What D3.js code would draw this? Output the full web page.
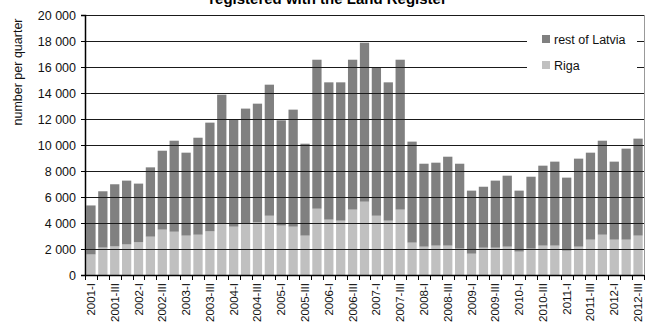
<!DOCTYPE html>
<html>
<head>
<meta charset="utf-8">
<script src="https://cdn.jsdelivr.net/npm/d3@7"></script>
<style>
  html, body { margin: 0; padding: 0; background: #fff; }
  svg { display: block; font-family: "Liberation Sans", Arial, sans-serif; }
</style>
</head>
<body>
<svg id="chart" width="650" height="327"></svg>
<script>
// Quarterly registrations, 2001-I .. 2012-III
const quarters = [
  "2001-I","2001-II","2001-III","2001-IV",
  "2002-I","2002-II","2002-III","2002-IV",
  "2003-I","2003-II","2003-III","2003-IV",
  "2004-I","2004-II","2004-III","2004-IV",
  "2005-I","2005-II","2005-III","2005-IV",
  "2006-I","2006-II","2006-III","2006-IV",
  "2007-I","2007-II","2007-III","2007-IV",
  "2008-I","2008-II","2008-III","2008-IV",
  "2009-I","2009-II","2009-III","2009-IV",
  "2010-I","2010-II","2010-III","2010-IV",
  "2011-I","2011-II","2011-III","2011-IV",
  "2012-I","2012-II","2012-III"
];
const riga = [
  1580, 2110, 2200, 2350,
  2520, 2950, 3490, 3330,
  3030, 3100, 3360, 3970,
  3720, 3970, 4050, 4560,
  3800, 3720, 3030, 5100,
  4260, 4180, 5030, 5640,
  4560, 4180, 5030, 2490,
  2180, 2260, 2260, 2030,
  1640, 2100, 2100, 2180,
  1800, 2030, 2260, 2260,
  1870, 2180, 2720, 3100,
  2720, 2720, 3030
];
const restOfLatvia = [
  3770, 4330, 4780, 4910,
  4510, 5330, 6070, 7000,
  6380, 7460, 8360, 9900,
  8280, 8830, 9130, 10080,
  8100, 9000, 7070, 11460,
  10560, 10640, 11530, 12230,
  11410, 10640, 11530, 7770,
  6380, 6380, 6840, 6530,
  4850, 4690, 5160, 5460,
  4690, 5530, 6150, 6460,
  5620, 6770, 6690, 7230,
  6000, 7000, 7460
];
const yTicks = [0, 2000, 4000, 6000, 8000, 10000, 12000, 14000, 16000, 18000, 20000];
const yTickLabels = ["0", "2 000", "4 000", "6 000", "8 000", "10 000", "12 000", "14 000", "16 000", "18 000", "20 000"];
const seriesNames = ["rest of Latvia", "Riga"];
const seriesColors = ["#808080", "#c0c0c0"];
const titleText = "registered with the Land Register";
const yTitle = "number per quarter";

const svg = d3.select("#chart");
const plotLeft = 85, plotRight = 644, plotTop = 15, plotBottom = 275;

const x = d3.scaleBand().domain(quarters).range([plotLeft, plotRight])
  .paddingInner(0.22).paddingOuter(0.11);
const y = d3.scaleLinear().domain([0, 20000]).range([plotBottom, plotTop]);

// stacked data: Riga at the bottom, rest of Latvia on top
const rows = quarters.map((q, i) => ({ q, riga: riga[i], rest: restOfLatvia[i] }));
const stack = d3.stack().keys(["riga", "rest"])(rows);
const colorOf = { riga: seriesColors[1], rest: seriesColors[0] };

// plot frame
svg.append("rect")
  .attr("x", plotLeft + 0.5).attr("y", plotTop + 0.5)
  .attr("width", plotRight - plotLeft).attr("height", plotBottom - plotTop)
  .attr("fill", "none").attr("stroke", "#999");

// bars
svg.append("g").selectAll("g").data(stack).join("g")
  .attr("fill", d => colorOf[d.key])
  .selectAll("rect").data(d => d).join("rect")
  .attr("x", d => x(d.data.q))
  .attr("width", x.bandwidth())
  .attr("y", d => y(d[1]))
  .attr("height", d => y(d[0]) - y(d[1]));

// horizontal gridlines
svg.append("g").selectAll("line").data(yTicks.filter(v => v > 0)).join("line")
  .attr("x1", plotLeft).attr("x2", plotRight)
  .attr("y1", d => Math.round(y(d)) + 0.5).attr("y2", d => Math.round(y(d)) + 0.5)
  .attr("stroke", "#1a1a1a").attr("stroke-width", 1);

// legend
const lg = svg.append("g");
lg.append("rect").attr("x", 527).attr("y", 22).attr("width", 110).attr("height", 62).attr("fill", "#fff");
seriesNames.forEach((name, i) => {
  const yy = 35 + i * 26;
  lg.append("rect").attr("x", 542).attr("y", yy).attr("width", 8).attr("height", 8).attr("fill", seriesColors[i]);
  lg.append("text").attr("x", 554).attr("y", yy + 9)
    .attr("font-size", 12.5).attr("fill", "#111").text(name);
});

// y axis
const yAxis = d3.axisLeft(y).tickValues(yTicks).tickSize(4).tickPadding(5)
  .tickFormat((d, i) => yTickLabels[i]);
const ya = svg.append("g").attr("transform", `translate(${plotLeft},0)`).call(yAxis);
ya.select(".domain").attr("stroke", "#000").attr("stroke-width", 1.5);
ya.selectAll(".tick line").attr("stroke", "#000");
ya.selectAll(".tick text").attr("font-size", 12.5).attr("fill", "#111")
  .attr("font-family", "Liberation Sans, Arial, sans-serif");

// x axis: ticks on category boundaries, labels on every other quarter
const step = x.step();
const bx = svg.append("g");
bx.append("line").attr("x1", plotLeft).attr("x2", plotRight).attr("y1", plotBottom + 0.5).attr("y2", plotBottom + 0.5)
  .attr("stroke", "#000").attr("stroke-width", 1.5);
bx.selectAll("line.tk").data(d3.range(quarters.length + 1)).join("line").attr("class", "tk")
  .attr("x1", i => Math.round(plotLeft + i * step) + 0.5).attr("x2", i => Math.round(plotLeft + i * step) + 0.5)
  .attr("y1", plotBottom).attr("y2", plotBottom + 5)
  .attr("stroke", "#000").attr("stroke-width", 1);
bx.selectAll("text").data(quarters.filter((q, i) => i % 2 === 0)).join("text")
  .attr("transform", q => `translate(${x(q) + x.bandwidth() / 2 + 4},283) rotate(-90)`)
  .attr("text-anchor", "end").attr("font-size", 11.5).attr("fill", "#111")
  .text(q => q);

// y-axis title
svg.append("text")
  .attr("transform", "translate(21.5,72) rotate(-90)")
  .attr("text-anchor", "middle").attr("font-size", 12.5).attr("fill", "#111")
  .text(yTitle);

// chart title (second line, upper part runs off the top edge)
svg.append("text").attr("x", 328).attr("y", 4)
  .attr("text-anchor", "middle").attr("font-size", 15).attr("font-weight", "bold").attr("fill", "#000")
  .text(titleText);
</script>
</body>
</html>
